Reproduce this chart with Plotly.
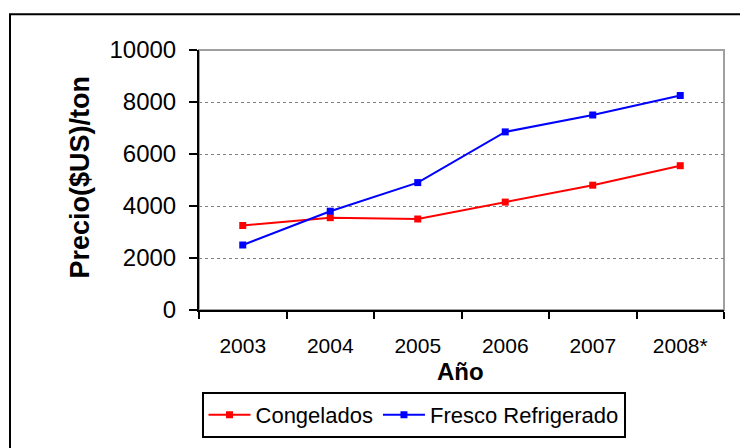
import plotly.graph_objects as go

years = ["2003", "2004", "2005", "2006", "2007", "2008*"]
congelados = [3250, 3550, 3500, 4150, 4800, 5550]
fresco = [2500, 3800, 4900, 6850, 7500, 8250]

FONT = "Liberation Sans, Arial, sans-serif"

fig = go.Figure()
fig.add_trace(go.Scatter(x=years, y=congelados, name="Congelados", mode="lines+markers",
                         line=dict(color="#FF0000", width=2),
                         marker=dict(symbol="square", size=7, color="#FF0000")))
fig.add_trace(go.Scatter(x=years, y=fresco, name="Fresco Refrigerado", mode="lines+markers",
                         line=dict(color="#0000FF", width=2),
                         marker=dict(symbol="square", size=7, color="#0000FF")))

fig.update_layout(
    width=740, height=448,
    margin=dict(l=199, r=16, t=50, b=137),
    paper_bgcolor="white", plot_bgcolor="white",
    font=dict(family=FONT, color="black"),
    showlegend=True,
    legend=dict(orientation="h", x=0.4086, y=-0.31, xanchor="center", yanchor="top",
                bordercolor="black", borderwidth=2, font=dict(size=22, family=FONT),
                bgcolor="white", itemwidth=42),
    xaxis=dict(type="category", range=[-0.5, 5.5], tickson="boundaries",
               ticks="outside", ticklen=7, tickwidth=2, tickcolor="black",
               showline=True, linecolor="black", linewidth=2,
               showgrid=False, tickfont=dict(size=21, family=FONT),
               ticklabelstandoff=16),
    yaxis=dict(range=[0, 10000], dtick=2000, tickformat="d", ticks="outside", ticklen=8,
               tickwidth=2, tickcolor="black", showline=True, linecolor="black", linewidth=2,
               showgrid=True, gridcolor="#808080", gridwidth=1, griddash="dot",
               zeroline=False, tickfont=dict(size=24, family=FONT),
               ticklabelstandoff=8),
    shapes=[
        dict(type="rect", xref="paper", yref="paper", x0=0, x1=1, y0=0, y1=1,
             line=dict(color="#A0A0A0", width=2), layer="below"),
        dict(type="rect", xref="paper", yref="paper", x0=(10 - 199) / 525, x1=1.2,
             y0=-1.0, y1=(311 - 14) / 261, line=dict(color="black", width=2), layer="below"),
    ],
    annotations=[
        dict(text="<b>Precio($US)/ton</b>", xref="paper", yref="paper",
             x=(80 - 199) / 525, y=(311 - 178) / 261, xanchor="center", yanchor="middle",
             textangle=-90, showarrow=False, font=dict(size=27, family=FONT)),
        dict(text="<b>Año</b>", xref="paper", yref="paper",
             x=(460 - 199) / 525, y=(311 - 373) / 261, xanchor="center", yanchor="middle",
             showarrow=False, font=dict(size=24, family=FONT)),
    ],
)

fig.write_html("out.html", config={"displayModeBar": False},
               post_script="document.body.style.margin='0';document.body.style.overflow='hidden';")
